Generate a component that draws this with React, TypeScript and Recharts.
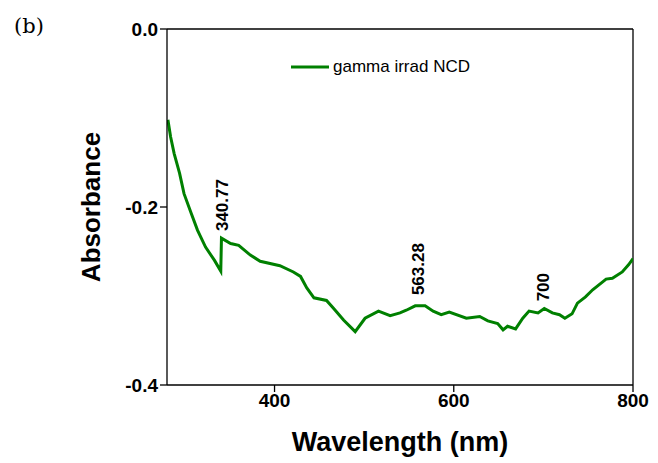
import React from 'react';
import { LineChart, Line, XAxis, YAxis, ReferenceLine, ReferenceDot, Legend } from 'recharts';

const wavelength = [
  281, 284, 288, 294, 299, 307, 314, 323, 333, 340, 340.77, 351, 360, 373, 384, 406, 421, 429,
  436, 444, 458, 466, 477, 490, 501, 516, 529, 540, 547, 557, 568, 577, 586, 595, 614, 629, 638,
  649, 655, 660, 669, 677, 684, 694, 701, 710, 718, 724, 732, 738, 747, 755, 770, 777, 788, 795,
  800,
];
const absorbance = [
  -0.102, -0.121, -0.14, -0.162, -0.185, -0.207, -0.226, -0.245, -0.26, -0.272, -0.235, -0.241,
  -0.243, -0.254, -0.261, -0.266, -0.273, -0.278, -0.291, -0.302, -0.305, -0.314, -0.327, -0.34,
  -0.325, -0.317, -0.322, -0.319, -0.316, -0.311, -0.311, -0.317, -0.321, -0.318, -0.325, -0.323,
  -0.328, -0.331, -0.338, -0.334, -0.337, -0.325, -0.317, -0.319, -0.314, -0.319, -0.321, -0.325,
  -0.32, -0.308, -0.301, -0.293, -0.281, -0.28, -0.273, -0.265, -0.258,
];

const peakLabels = ['340.77', '563.28', '700'];
const peakX = [342, 561, 700];
const peakY = [-0.227, -0.299, -0.306];

const xTicks = [400, 600, 800];
const yTicks = [-0.4, -0.2, 0];

const data = wavelength.map((w, i) => ({ wl: w, abs: absorbance[i] }));

const FONT = '"Liberation Sans", Arial, sans-serif';
const GREEN = '#008000';

const peakShape = (text: string) => (props: any) => {
  const { cx, cy } = props;
  return (
    <text
      x={cx}
      y={cy}
      transform={`rotate(-90 ${cx} ${cy})`}
      textAnchor="start"
      dominantBaseline="central"
      fontFamily={FONT}
      fontSize={17}
      fontWeight="bold"
      fill="#000"
    >
      {text}
    </text>
  );
};

const LegendBox = () => (
  <div style={{ display: 'flex', alignItems: 'center', fontFamily: FONT, fontSize: 17, color: '#000' }}>
    <svg width={38} height={6} style={{ marginRight: 4 }}>
      <line x1={0} y1={3} x2={38} y2={3} stroke={GREEN} strokeWidth={3} />
    </svg>
    <span>gamma irrad NCD</span>
  </div>
);

export default function App() {
  return (
    <div style={{ position: 'absolute', left: 0, top: 0, width: 658, height: 463, background: '#fff' }}>
      <div style={{ position: 'absolute', left: 14, top: 14, fontFamily: '"DejaVu Serif", serif', fontSize: 21 }}>
        (b)
      </div>
      <LineChart width={658} height={463} data={data} margin={{ top: 29, right: 25, bottom: 48, left: 107 }}>
        <XAxis
          dataKey="wl"
          type="number"
          domain={[280, 800]}
          ticks={xTicks}
          allowDataOverflow
          height={30}
          tickSize={7}
          stroke="#000"
          strokeWidth={1.3}
          tick={{ fill: '#000', fontFamily: FONT, fontSize: 19, fontWeight: 'bold' }}
          label={{
            value: 'Wavelength (nm)',
            position: 'insideBottom',
            offset: -36,
            fill: '#000',
            fontFamily: FONT,
            fontSize: 27,
            fontWeight: 'bold',
          }}
        />
        <YAxis
          type="number"
          domain={[-0.4, 0]}
          ticks={yTicks}
          width={60}
          tickSize={7}
          stroke="#000"
          strokeWidth={1.3}
          tickFormatter={(v: number) => v.toFixed(1)}
          tick={{ fill: '#000', fontFamily: FONT, fontSize: 19, fontWeight: 'bold' }}
          label={{
            value: 'Absorbance',
            angle: -90,
            position: 'insideLeft',
            offset: -16,
            style: { textAnchor: 'middle' },
            fill: '#000',
            fontFamily: FONT,
            fontSize: 26,
            fontWeight: 'bold',
          }}
        />
        <ReferenceLine y={0} stroke="#000" strokeWidth={1.3} />
        <ReferenceLine x={800} stroke="#000" strokeWidth={1.3} />
        <Legend
          layout="horizontal"
          verticalAlign="middle"
          align="center"
          wrapperStyle={{ position: 'absolute', left: 291, top: 57, width: 'auto' }}
          content={() => <LegendBox />}
        />
        <Line
          type="linear"
          dataKey="abs"
          name="gamma irrad NCD"
          stroke={GREEN}
          strokeWidth={3}
          dot={false}
          isAnimationActive={false}
        />
        {peakLabels.map((t, i) => (
          <ReferenceDot key={t} x={peakX[i]} y={peakY[i]} r={0} shape={peakShape(t)} />
        ))}
      </LineChart>
    </div>
  );
}
